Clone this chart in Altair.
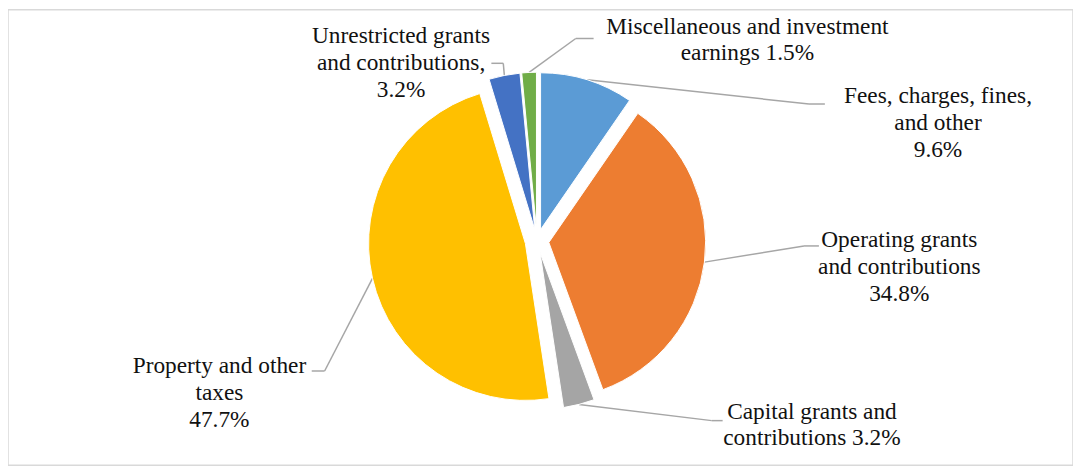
import altair as alt
import pandas as pd

# ---- data ----
categories = [
    "Fees, charges, fines, and other",
    "Operating grants and contributions",
    "Capital grants and contributions",
    "Property and other taxes",
    "Unrestricted grants and contributions",
    "Miscellaneous and investment earnings",
]
values = [9.6, 34.8, 3.2, 47.7, 3.2, 1.5]
labels = [
    "Fees, charges, fines,\nand other\n9.6%",
    "Operating grants\nand contributions\n34.8%",
    "Capital grants and\ncontributions 3.2%",
    "Property and other\ntaxes\n47.7%",
    "Unrestricted grants\nand contributions,\n3.2%",
    "Miscellaneous  and investment\nearnings  1.5%",
]
colors = ["#5B9BD5", "#ED7D31", "#A5A5A5", "#FFC000", "#4472C4", "#70AD47"]

# ---- layout (label placement, in chart pixels; label_y = first line) ----
W, H = 1073, 459
CX, CY, R, EXPLODE = 533, 233, 158, 12
label_x = [937, 898, 810, 213, 396, 745]
label_y = [87, 232, 405, 359, 27, 17]
attach_x = [823, 817, 720, 306, 487, 590]
attach_y = [95, 238, 414, 364, 54, 29]
elbow_x = [807, 802, 709, 319, 499, 572]

df = pd.DataFrame({
    "order": list(range(len(categories))),
    "category": categories,
    "value": values,
    "label": labels,
    "tx": label_x,
    "ty": label_y,
    "ax": attach_x,
    "ay": attach_y,
    "bx": elbow_x,
})

xs = alt.Scale(domain=[0, W], nice=False, zero=False)
ys = alt.Scale(domain=[0, H], nice=False, zero=False, reverse=True)

base = alt.Chart(df).transform_window(
    cum="sum(value)", sort=[alt.SortField("order")], frame=[None, 0]
).transform_joinaggregate(
    total="sum(value)"
).transform_calculate(
    p0="(datum.cum - datum.value) / datum.total * 100",
    p1="datum.cum / datum.total * 100",
    mid="(datum.cum - datum.value / 2) / datum.total * 2 * PI",
    ex=f"{CX} + {EXPLODE} * sin(datum.mid)",
    ey=f"{CY} - {EXPLODE} * cos(datum.mid)",
    sx=f"{CX} + {R + EXPLODE} * sin(datum.mid)",
    sy=f"{CY} - {R + EXPLODE} * cos(datum.mid)",
)

line_color = "#A6A6A6"

seg1 = base.mark_rule(color=line_color, strokeWidth=1.5).encode(
    x=alt.X("sx:Q", scale=xs, axis=None),
    y=alt.Y("sy:Q", scale=ys, axis=None),
    x2="bx:Q",
    y2="ay:Q",
)
seg2 = base.mark_rule(color=line_color, strokeWidth=1.5).encode(
    x=alt.X("bx:Q", scale=xs, axis=None),
    y=alt.Y("ay:Q", scale=ys, axis=None),
    x2="ax:Q",
    y2="ay:Q",
)

arcs = base.mark_arc(radius=R, stroke="white", strokeWidth=1).encode(
    x=alt.X("ex:Q", scale=xs, axis=None),
    y=alt.Y("ey:Q", scale=ys, axis=None),
    theta=alt.Theta("p0:Q", scale=alt.Scale(domain=[0, 100]), stack=None),
    theta2="p1:Q",
    color=alt.Color("category:N", scale=alt.Scale(domain=categories, range=colors), legend=None),
    order=alt.Order("order:Q"),
)

texts = base.mark_text(
    font="'Liberation Serif', 'Times New Roman', 'DejaVu Serif', serif",
    fontSize=23.5, lineHeight=27, lineBreak="\n",
    align="center", baseline="middle", color="#111111",
).encode(
    x=alt.X("tx:Q", scale=xs, axis=None),
    y=alt.Y("ty:Q", scale=ys, axis=None),
    text="label:N",
)

chart = alt.layer(seg1, seg2, arcs, texts).properties(
    width=W, height=H, padding=0, background="white"
).configure_view(stroke="#D9D9D9", strokeWidth=1.5)

chart.save("out.html", embed_options={"renderer": "svg", "actions": False})
